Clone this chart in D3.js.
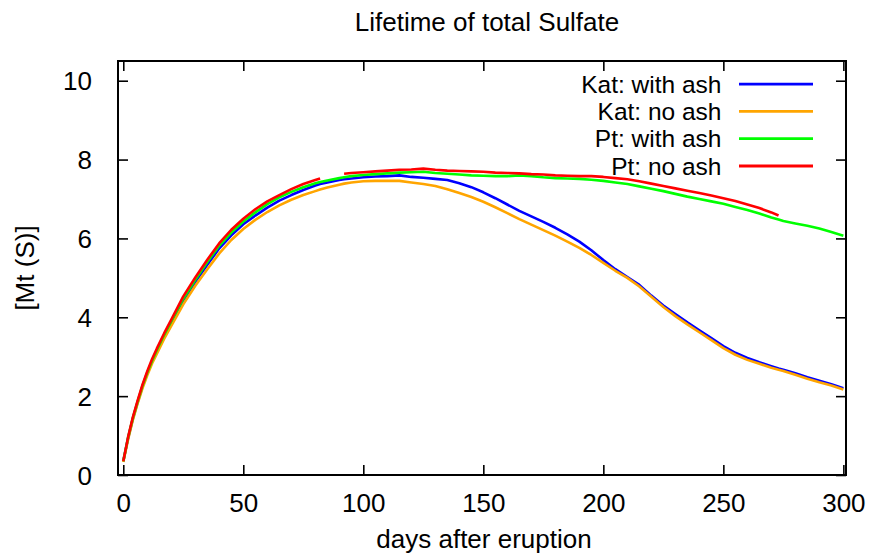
<!DOCTYPE html>
<html>
<head>
<meta charset="utf-8">
<script src="https://cdn.jsdelivr.net/npm/d3@7"></script>
<style>
  html, body { margin: 0; padding: 0; background: #fff; }
  svg { display: block; }
  text { font-family: "Liberation Sans", Arial, Helvetica, sans-serif; fill: #000; }
</style>
</head>
<body>
<svg id="chart" width="875" height="557"></svg>
<script>
const days = [0,2,4,6,8,10,12,14,17,
  20,25,30,35,40,45,50,55,60,65,70,75,80,
  82,85,90,92,
  95,100,105,110,115,120,125,130,135,140,145,150,155,160,165,170,175,180,185,190,195,200,205,210,215,220,225,230,235,240,245,250,255,260,265,270,
  273,275,280,285,290,295,300];

const katWithAsh = [0.35,0.93,1.43,1.85,2.24,2.58,2.88,3.14,3.52,
  3.86,4.42,4.90,5.33,5.75,6.08,6.36,6.58,6.78,6.96,7.10,7.23,7.34,
  7.38,7.42,7.48,7.50,
  7.52,7.55,7.57,7.58,7.60,7.56,7.54,7.51,7.48,7.40,7.30,7.17,7.02,6.86,6.70,6.56,6.42,6.27,6.10,5.92,5.70,5.45,5.22,5.02,4.82,4.55,4.30,4.08,3.87,3.67,3.47,3.27,3.10,2.97,2.86,2.76,
  2.70,2.67,2.58,2.48,2.39,2.30,2.20];

const katNoAsh = [0.33,0.90,1.40,1.82,2.20,2.53,2.83,3.08,3.45,
  3.78,4.33,4.80,5.22,5.62,5.96,6.24,6.47,6.67,6.84,6.98,7.10,7.20,
  7.24,7.29,7.36,7.39,
  7.42,7.45,7.46,7.46,7.46,7.42,7.38,7.33,7.25,7.15,7.05,6.93,6.79,6.64,6.49,6.35,6.21,6.07,5.92,5.76,5.58,5.38,5.18,5.00,4.78,4.52,4.26,4.03,3.82,3.62,3.42,3.22,3.05,2.92,2.82,2.72,
  2.67,2.64,2.54,2.44,2.35,2.27,2.17];

const ptWithAsh = [0.35,0.95,1.45,1.87,2.26,2.60,2.90,3.17,3.55,
  3.90,4.47,4.95,5.40,5.82,6.15,6.43,6.66,6.87,7.04,7.18,7.30,7.40,
  7.43,7.47,7.53,7.55,
  7.58,7.61,7.63,7.65,7.67,7.68,7.69,7.66,7.64,7.62,7.60,7.59,7.58,7.58,7.60,7.58,7.55,7.53,7.52,7.51,7.49,7.46,7.42,7.38,7.32,7.26,7.20,7.13,7.06,7.00,6.94,6.88,6.80,6.72,6.63,6.53,
  6.48,6.44,6.38,6.32,6.25,6.16,6.07];

const ptNoAsh = [0.35,0.96,1.47,1.89,2.29,2.63,2.94,3.21,3.59,
  3.94,4.53,5.01,5.46,5.88,6.22,6.50,6.74,6.94,7.10,7.25,7.38,7.48,
  7.52,null,null,7.64,
  7.66,7.68,7.70,7.72,7.74,7.75,7.77,7.74,7.72,7.71,7.70,7.69,7.67,7.66,7.65,7.63,7.62,7.60,7.59,7.58,7.58,7.56,7.53,7.50,7.45,7.39,7.33,7.27,7.21,7.15,7.09,7.02,6.95,6.86,6.77,6.66,
  6.58,null,null,null,null,null,null];

const seriesNames = ["Kat: with ash", "Kat: no ash", "Pt: with ash", "Pt: no ash"];
const seriesColors = ["#0000ff", "#ffa500", "#00ff00", "#ff0000"];
const seriesValues = [katWithAsh, katNoAsh, ptWithAsh, ptNoAsh];

const xTicks = [0, 50, 100, 150, 200, 250, 300];
const yTicks = [0, 2, 4, 6, 8, 10];

const titleText = "Lifetime of total Sulfate";
const xLabelText = "days after eruption";
const yLabelText = "[Mt (S)]";

const svg = d3.select("#chart");
const L = 118, R = 846, T = 61, B = 475;
const FS = 26;
const LEG_FS = 24.5;

const x = d3.scaleLinear().domain([-2.2, 301.1]).range([L, R]);
const y = d3.scaleLinear().domain([0, 10.5]).range([B, T]);

// curves
const line = d3.line()
  .defined(d => d[1] !== null)
  .x(d => x(d[0]))
  .y(d => y(d[1]));

seriesValues.forEach((vals, i) => {
  const pts = days.map((d, j) => [d, vals[j]]);
  svg.append("path")
    .attr("d", line(pts))
    .attr("fill", "none")
    .attr("stroke", seriesColors[i])
    .attr("stroke-width", 2.6)
    .attr("stroke-linejoin", "round")
    .attr("stroke-linecap", "butt");
});

// axes with inward ticks (mirrored)
const tickLen = 10;
const gBottom = svg.append("g").attr("transform", `translate(0,${B})`)
  .call(d3.axisBottom(x).tickValues(xTicks).tickSizeInner(-tickLen).tickSizeOuter(0));
const gTop = svg.append("g").attr("transform", `translate(0,${T})`)
  .call(d3.axisTop(x).tickValues(xTicks).tickSizeInner(-tickLen).tickSizeOuter(0).tickFormat(""));
const gLeft = svg.append("g").attr("transform", `translate(${L},0)`)
  .call(d3.axisLeft(y).tickValues(yTicks).tickSizeInner(-tickLen).tickSizeOuter(0).tickPadding(tickLen + 16));
const gRight = svg.append("g").attr("transform", `translate(${R},0)`)
  .call(d3.axisRight(y).tickValues(yTicks).tickSizeInner(-tickLen).tickSizeOuter(0).tickFormat(""));

[gBottom, gTop, gLeft, gRight].forEach(g => {
  g.select(".domain").remove();
  g.selectAll(".tick line").attr("stroke", "#000").attr("stroke-width", 1.6);
  g.selectAll(".tick text").attr("font-size", FS).attr("font-family", "Liberation Sans, Arial, sans-serif").attr("fill", "#000");
});
gBottom.selectAll(".tick text").attr("dy", null).attr("y", 511.7 - B);
gLeft.selectAll(".tick text").attr("dy", "0.35em");

// frame
svg.append("rect")
  .attr("x", L).attr("y", T).attr("width", R - L).attr("height", B - T)
  .attr("fill", "none").attr("stroke", "#000").attr("stroke-width", 2);

// title & labels
svg.append("text").attr("x", 487).attr("y", 31).attr("text-anchor", "middle")
  .attr("font-size", FS).text(titleText);
svg.append("text").attr("x", 484).attr("y", 548).attr("text-anchor", "middle")
  .attr("font-size", FS).text(xLabelText);
svg.append("text").attr("transform", "translate(34,268) rotate(-90)")
  .attr("text-anchor", "middle").attr("font-size", FS).text(yLabelText);

// legend
const legY = d3.scaleLinear().domain([0, 1]).range([84.1, 111.4]);
seriesNames.forEach((name, i) => {
  const yy = legY(i);
  svg.append("text").attr("x", 721.5).attr("y", yy).attr("dy", "0.35em")
    .attr("text-anchor", "end").attr("font-size", LEG_FS).text(name);
  svg.append("line").attr("x1", 739).attr("x2", 813).attr("y1", yy).attr("y2", yy)
    .attr("stroke", seriesColors[i]).attr("stroke-width", 2.8);
});
</script>
</body>
</html>
